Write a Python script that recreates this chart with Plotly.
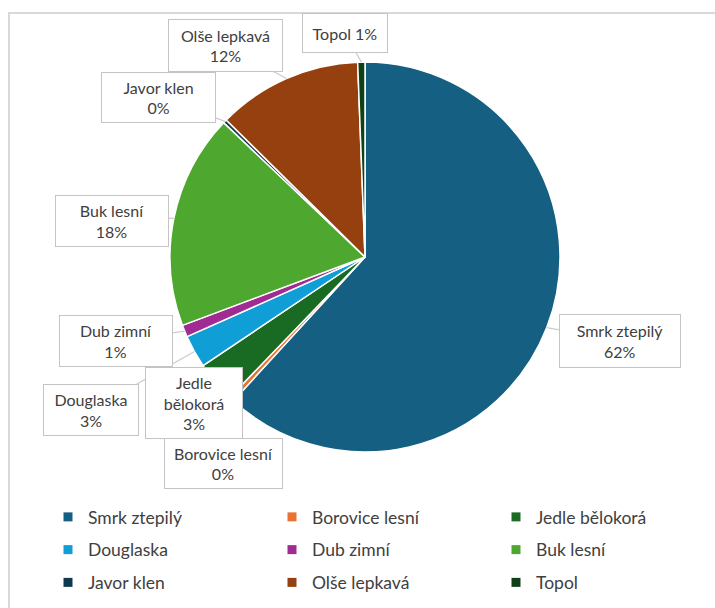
import math
import plotly.graph_objects as go

# Tree species composition (share of area, %)
species = ["Smrk ztepilý", "Borovice lesní", "Jedle bělokorá", "Douglaska", "Dub zimní",
           "Buk lesní", "Javor klen", "Olše lepkavá", "Topol"]
shares = [61.8, 0.4, 3.4, 2.7, 1.0, 17.8, 0.3, 12.0, 0.6]
colors = ["#156082", "#E97132", "#196B24", "#0F9ED5", "#A02B93",
          "#4EA72E", "#0D3A4E", "#964010", "#0F4016"]
# callout wording (line breaks as drawn in the boxes)
callout_names = ["Smrk ztepilý", "Borovice lesní", "Jedle<br>bělokorá", "Douglaska", "Dub zimní",
                 "Buk lesní", "Javor klen", "Olše lepkavá", "Topol"]
callout_sep = ["<br>", "<br>", "<br>", "<br>", "<br>", "<br>", "<br>", "<br>", " "]

W, H = 715, 608
TEXT = "#404040"
FONT = "Lato"

# pie placement in pixels (centre and radius)
CX, CY, R = 365, 257, 195

# callout boxes: centre x, centre y, width, height (pixels)
boxes = [
    (620, 341, 122, 54),    # Smrk
    (223.5, 463.5, 119, 51),  # Borovice
    (194, 403, 98, 72),     # Jedle
    (91, 410, 96, 52),      # Douglaska
    (116, 341, 114, 52),    # Dub
    (112, 221, 114, 52),    # Buk
    (158.5, 97.5, 115, 51),  # Javor
    (225.5, 45.5, 115, 53),  # Olše
    (345, 33, 86, 40),      # Topol
]
# draw order of callouts (later ones sit on top of earlier leader lines)
draw_order = [3, 1, 2, 4, 5, 6, 7, 8, 0]

fig = go.Figure()

fig.add_trace(go.Pie(
    labels=species,
    values=shares,
    sort=False,
    direction="clockwise",
    rotation=0,
    textinfo="none",
    hoverinfo="label+percent",
    marker=dict(colors=colors, line=dict(color="white", width=1.5)),
    domain=dict(x=[(CX - R) / W, (CX + R) / W], y=[1 - (CY + R) / H, 1 - (CY - R) / H]),
    showlegend=False,
))

# legend entries laid out in three columns
columns = [[0, 3, 6], [1, 4, 7], [2, 5, 8]]
legend_names = ["legend", "legend2", "legend3"]
for col, lname in zip(columns, legend_names):
    for i in col:
        fig.add_trace(go.Scatter(
            x=[None], y=[None], mode="markers",
            marker=dict(symbol="square", size=9, color=colors[i]),
            name=species[i], legendgroup=species[i], legend=lname,
            hoverinfo="skip",
        ))

# callouts with leader lines to each slice's mid-angle
total = sum(shares)
cum = 0.0
mids = []
for v in shares:
    mids.append((cum + v / 2) / total * 2 * math.pi)
    cum += v

annotations = []
for i in draw_order:
    ang = mids[i]
    px = CX + R * math.sin(ang)
    py = CY - R * math.cos(ang)
    bx, by, bw, bh = boxes[i]
    pct = f"{round(shares[i] / total * 100):d}%"
    text = callout_names[i] + callout_sep[i] + pct
    inside = (bx - bw / 2 <= px <= bx + bw / 2) and (by - bh / 2 <= py <= by + bh / 2)
    ann = dict(
        xref="x", yref="y", text=text,
        font=dict(family=FONT, size=16, color=TEXT),
        bgcolor="white", bordercolor="#c4c4c4", borderwidth=1, borderpad=0,
        width=bw - 2, height=bh - 2, align="center", valign="middle",
    )
    if inside:
        ann.update(x=bx, y=by, showarrow=False)
    else:
        ann.update(x=px, y=py, axref="x", ayref="y", ax=bx, ay=by, showarrow=True,
                   arrowhead=0, arrowwidth=1.3, arrowcolor="#cccccc")
    annotations.append(ann)

legend_style = dict(
    yanchor="top", xanchor="left", y=1 - 499 / H,
    orientation="v", tracegroupgap=7,
    font=dict(family=FONT, size=17.5, color=TEXT),
    bgcolor="rgba(0,0,0,0)", itemclick=False, itemdoubleclick=False,
)

fig.update_layout(
    width=W, height=H,
    margin=dict(l=0, r=0, t=0, b=0),
    paper_bgcolor="white", plot_bgcolor="white",
    xaxis=dict(range=[0, W], visible=False, fixedrange=True),
    yaxis=dict(range=[H, 0], visible=False, fixedrange=True),
    annotations=annotations,
    shapes=[dict(type="rect", xref="x", yref="y", x0=9, y0=13, x1=W + 10, y1=H + 10,
                 line=dict(color="#d9d9d9", width=2), fillcolor="rgba(0,0,0,0)", layer="below")],
    legend=dict(legend_style, x=48 / W),
    legend2=dict(legend_style, x=272 / W),
    legend3=dict(legend_style, x=496 / W),
    showlegend=True,
)

fig.write_html("out.html")
